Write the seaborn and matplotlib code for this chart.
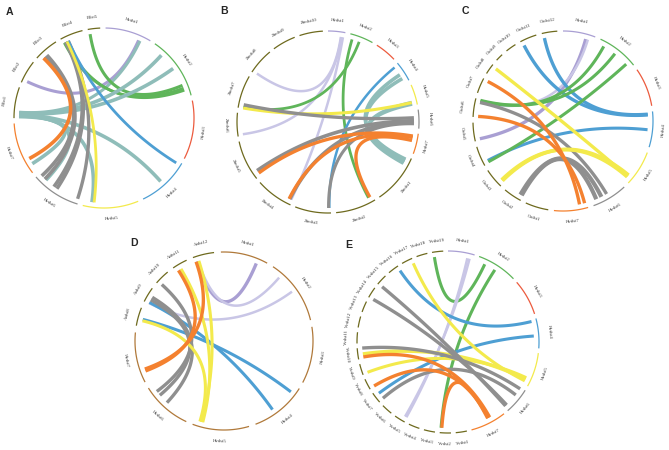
import numpy as np
import matplotlib
matplotlib.use("Agg")
import matplotlib.pyplot as plt
import seaborn as sns

# ======================
# 0. STYLE
# ======================
sns.set_theme(style="white")
plt.rcParams['font.family'] = ['Liberation Serif', 'DejaVu Serif']

pal = {
    'purple': '#a99fd3', 'lav': '#c9c6e6', 'green': '#5fb55a', 'red': '#ec5b3e',
    'blue': '#4e9fd3', 'yellow': '#f3ea4c', 'gray': '#8f8f8f', 'orange': '#f4812f',
    'teal': '#8fbdb9', 'olive': '#6e6a1e', 'brown': '#b0793a',
}
hv_colors = ['purple', 'green', 'red', 'blue', 'yellow', 'gray', 'orange']
hv_names = ['Hvdst%d' % i for i in range(1, 8)]

# ======================
# 1. DATA (sector sizes in degrees, links = sector, offset, sector, offset, colour, width)
# ======================
# A: barley vs Brachypodium
a_names = hv_names + ['Bdst%d' % i for i in range(1, 6)]
a_sizes = [30, 41, 38, 34, 36, 32, 34, 20, 15, 16, 15, 8]
a_links = [
    ('Bdst2', 2, 'Hvdst1', 23, 'purple', 2.2),
    ('Bdst1', 4, 'Hvdst1', 24, 'teal', 2.2),
    ('Bdst5', 1, 'Hvdst2', 33, 'green', 2.2),
    ('Bdst4', 1, 'Hvdst2', 35, 'green', 2.0),
    ('Bdst4', 2, 'Hvdst2', 36.5, 'green', 2.0),
    ('Bdst1', 3.5, 'Hvdst2', 8, 'teal', 2.6),
    ('Bdst1', 3, 'Hvdst2', 20, 'teal', 2.6),
    ('Bdst1', 2.5, 'Hvdst4', 18, 'teal', 2.6),
    ('Bdst1', 2, 'Hvdst5', 30.5, 'teal', 2.6),
    ('Bdst1', 1.5, 'Hvdst6', 26, 'teal', 2.6),
    ('Bdst1', 1, 'Hvdst7', 5, 'teal', 2.6),
    ('Bdst3', 4, 'Hvdst6', 30, 'gray', 2.6),
    ('Bdst3', 6, 'Hvdst6', 27, 'gray', 2.6),
    ('Bdst4', 2, 'Hvdst6', 19, 'gray', 2.6),
    ('Bdst4', 3, 'Hvdst6', 16.6, 'gray', 2.6),
    ('Bdst4', 4, 'Hvdst6', 1, 'gray', 2.4),
    ('Bdst3', 3, 'Hvdst7', 9, 'orange', 2.6),
    ('Bdst4', 4, 'Hvdst4', 1.6, 'blue', 2.0),
    ('Bdst4', 3, 'Hvdst5', 29, 'yellow', 2.0),
]

# B: barley vs maize
b_names = hv_names + ['Zmdst%d' % i for i in range(1, 11)]
b_sizes = [11, 15, 14, 13, 13, 12, 13, 32, 26, 23, 24, 26, 15, 21, 17, 15, 15]
b_links = [
    ('Hvdst1', 8.6, 'Zmdst8', 1, 'lav', 1.8),
    ('Hvdst1', 9, 'Zmdst6', 1, 'lav', 1.8),
    ('Hvdst1', 10, 'Zmdst4', 1, 'lav', 1.8),
    ('Hvdst2', 2, 'Zmdst2', 3, 'green', 2.0),
    ('Hvdst2', 7, 'Zmdst7', 0.8, 'green', 2.0),
    ('Hvdst4', 1, 'Zmdst3', 1, 'blue', 1.8),
    ('Hvdst4', 7, 'Zmdst1', 2, 'teal', 2.6),
    ('Hvdst4', 10, 'Zmdst1', 3, 'teal', 2.6),
    ('Hvdst5', 11, 'Zmdst1', 4, 'teal', 2.6),
    ('Hvdst5', 12, 'Zmdst1', 5, 'teal', 2.6),
    ('Hvdst5', 11, 'Zmdst7', 0.3, 'yellow', 2.2),
    ('Hvdst6', 5, 'Zmdst7', 2.5, 'gray', 2.4),
    ('Hvdst6', 7, 'Zmdst5', 4, 'gray', 2.6),
    ('Hvdst6', 8, 'Zmdst4', 2, 'gray', 2.6),
    ('Hvdst6', 9, 'Zmdst3', 1.5, 'gray', 2.2),
    ('Hvdst7', 2, 'Zmdst5', 2, 'orange', 2.4),
    ('Hvdst7', 3, 'Zmdst4', 2.5, 'orange', 2.4),
    ('Hvdst7', 5, 'Zmdst2', 2, 'orange', 2.4),
]

# C: barley vs rice
c_names = hv_names + ['Osdst%d' % i for i in range(1, 13)]
c_sizes = [21, 27, 25, 23, 23, 23, 22, 15, 12, 13, 13, 12, 12, 10, 7, 5, 7, 11, 10]
c_links = [
    ('Hvdst1', 15.5, 'Osdst5', 1, 'purple', 2.4),
    ('Hvdst1', 17, 'Osdst6', 10, 'lav', 1.8),
    ('Osdst11', 1, 'Hvdst4', 2, 'blue', 2.4),
    ('Osdst12', 1, 'Hvdst4', 1.5, 'blue', 2.4),
    ('Osdst4', 2, 'Hvdst4', 12, 'blue', 2.2),
    ('Hvdst2', 4, 'Osdst6', 11, 'green', 2.2),
    ('Hvdst2', 13, 'Osdst6', 11.5, 'green', 2.2),
    ('Hvdst2', 23.4, 'Osdst4', 1, 'green', 2.2),
    ('Osdst6', 10, 'Hvdst6', 12, 'gray', 2.4),
    ('Osdst2', 1, 'Hvdst6', 19.8, 'gray', 3.0),
    ('Osdst2', 2, 'Hvdst6', 16, 'gray', 3.0),
    ('Osdst8', 6, 'Hvdst5', 20, 'yellow', 2.4),
    ('Osdst3', 1.7, 'Hvdst5', 19, 'yellow', 2.6),
    ('Osdst3', 2.5, 'Hvdst5', 20.5, 'yellow', 2.6),
    ('Osdst7', 9.5, 'Hvdst7', 5, 'orange', 2.4),
    ('Osdst6', 0.5, 'Hvdst7', 1.5, 'orange', 2.4),
]

# D: barley vs Arabidopsis
d_names = hv_names + ['Atdst8', 'Atdst9', 'Atdst10', 'Atdst11', 'Atdst12']
d_sizes = [31, 43, 37, 37, 37, 33, 33, 12, 10, 10, 10, 14]
d_links = [
    ('Atdst12', 1.5, 'Hvdst1', 24.6, 'purple', 2.4),
    ('Atdst12', 2.5, 'Hvdst2', 7.6, 'lav', 1.8),
    ('Atdst9', 0.5, 'Hvdst2', 20.6, 'lav', 1.8),
    ('Atdst9', 1, 'Hvdst4', 22.5, 'blue', 2.2),
    ('Atdst8', 5, 'Hvdst4', 5, 'blue', 2.2),
    ('Atdst10', 1.5, 'Hvdst6', 28, 'gray', 2.4),
    ('Atdst9', 3, 'Hvdst6', 24.7, 'gray', 2.4),
    ('Atdst9', 5, 'Hvdst6', 17.7, 'gray', 2.4),
    ('Atdst11', 4, 'Hvdst5', 31, 'yellow', 2.2),
    ('Atdst12', 3, 'Hvdst5', 32, 'yellow', 2.2),
    ('Atdst8', 4, 'Hvdst5', 33, 'yellow', 2.2),
    ('Atdst11', 2, 'Hvdst7', 6.6, 'orange', 2.4),
    ('Atdst12', 1, 'Hvdst7', 8, 'orange', 2.4),
]

# E: barley vs grape
e_names = hv_names + ['Vvdst%d' % i for i in range(1, 20)]
e_sizes = [17, 26, 23, 19, 22, 17, 23] + [7.1] * 19
e_links = [
    ('Vvdst19', 1, 'Hvdst2', 5.3, 'green', 2.2),
    ('Hvdst2', 13, 'Vvdst2', 6.5, 'green', 2.2),
    ('Hvdst1', 13, 'Vvdst5', 0.5, 'lav', 1.8),
    ('Hvdst1', 14.5, 'Vvdst5', 1.5, 'lav', 1.8),
    ('Vvdst16', 6.5, 'Hvdst4', 1.2, 'blue', 2.2),
    ('Vvdst7', 4.8, 'Hvdst4', 11, 'blue', 2.2),
    ('Vvdst17', 6.5, 'Hvdst5', 19.8, 'yellow', 2.2),
    ('Vvdst9', 0.5, 'Hvdst5', 17.5, 'yellow', 2.2),
    ('Vvdst10', 3, 'Hvdst5', 18.5, 'yellow', 2.6),
    ('Vvdst15', 0.5, 'Hvdst6', 16, 'gray', 2.4),
    ('Vvdst14', 0.3, 'Hvdst6', 15, 'gray', 2.4),
    ('Vvdst10', 7, 'Hvdst6', 1, 'gray', 2.4),
    ('Vvdst7', 0.5, 'Hvdst6', 6, 'gray', 2.4),
    ('Vvdst10', 1, 'Hvdst7', 9, 'orange', 2.4),
    ('Vvdst8', 0.5, 'Hvdst7', 10, 'orange', 2.4),
    ('Vvdst2', 6, 'Hvdst7', 10.5, 'orange', 2.4),
]


# ======================
# 2. DRAWING HELPERS
# ======================
def sector_color(name, hv_brown=False):
    if name.startswith('Hv'):
        return pal['brown'] if hv_brown else pal[hv_colors[int(name[5:]) - 1]]
    return pal['olive']


def draw_chord(ax, cx, cy, r, names, sizes, links, start=90, hv_brown=False):
    gap = (360 - sum(sizes)) / len(sizes)
    starts = {}
    s = start
    for name, size in zip(names, sizes):
        e = s - size
        starts[name] = s
        th = np.radians(np.linspace(s, e, 80))
        ax.plot(cx + r * np.cos(th), cy - r * np.sin(th), color=sector_color(name, hv_brown),
                lw=0.9, solid_capstyle='butt')
        m = ((s + e) / 2 + 180) % 360 - 180
        rot = m - 90 if 0 < m < 180 else m + 90
        ax.text(cx + (r + 11) * np.cos(np.radians(m)), cy - (r + 11) * np.sin(np.radians(m)),
                name, fontsize=3.4, rotation=rot, ha='center', va='center',
                rotation_mode='anchor', color='#333333')
        s = e - gap

    rl = r - 5
    t = np.linspace(0, 1, 100)[:, None]
    for s1, o1, s2, o2, col, lw in links:
        a1 = np.radians(starts[s1] - o1)
        a2 = np.radians(starts[s2] - o2)
        p0 = np.array([cx + rl * np.cos(a1), cy - rl * np.sin(a1)])
        p2 = np.array([cx + rl * np.cos(a2), cy - rl * np.sin(a2)])
        c = np.array([cx, cy])
        pts = (1 - t) ** 2 * p0 + 2 * t * (1 - t) * c + t ** 2 * p2
        ax.plot(pts[:, 0], pts[:, 1], color=pal[col], lw=lw, solid_capstyle='butt')


# ======================
# 3. FIGURE
# ======================
fig = plt.figure(figsize=(6.69, 4.5), dpi=100)
ax = fig.add_axes([0, 0, 1, 1])
ax.set_xlim(0, 669)
ax.set_ylim(450, 0)
ax.set_aspect('equal')
ax.axis('off')

draw_chord(ax, 104, 118, 90, a_names, a_sizes, a_links, start=89)
draw_chord(ax, 328, 122, 91, b_names, b_sizes, b_links, start=90)
draw_chord(ax, 563, 121, 90, c_names, c_sizes, c_links, start=90)
draw_chord(ax, 224, 341, 89, d_names, d_sizes, d_links, start=92, hv_brown=True)
draw_chord(ax, 448, 342, 91, e_names, e_sizes, e_links, start=90)

for lab, x, y in [('A', 9.5, 12), ('B', 224, 11), ('C', 465, 11), ('D', 134, 243), ('E', 349, 245)]:
    ax.text(x, y, lab, fontsize=7.6, fontweight='bold', ha='center', va='center',
            family=['Liberation Sans', 'DejaVu Sans'])

fig.savefig('out.png', dpi=100)
